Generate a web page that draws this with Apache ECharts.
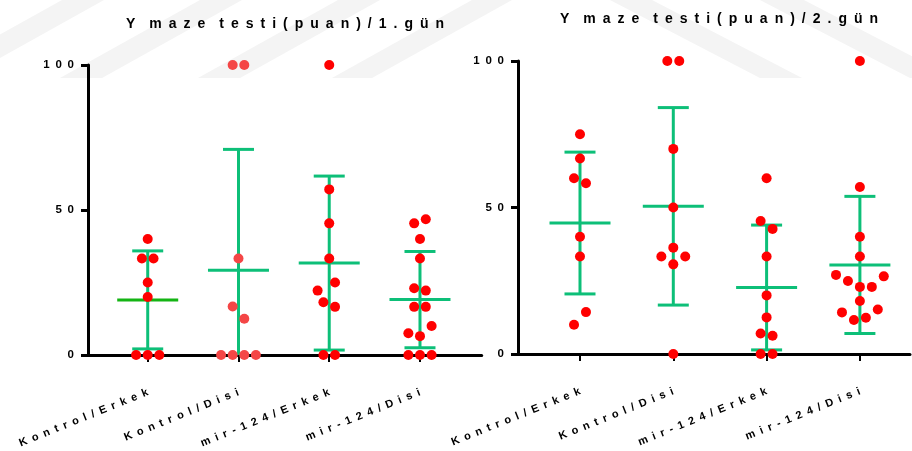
<!DOCTYPE html>
<html>
<head>
<meta charset="utf-8">
<script src="https://cdn.jsdelivr.net/npm/echarts@6/dist/echarts.min.js"></script>
<style>html,body{margin:0;padding:0;background:#fff;}#c{width:912px;height:451px;}</style>
</head>
<body>
<div id="c"></div>
<script>
// ---------- data ----------
const categories = ['Kontrol / Erkek', 'Kontrol / Disi', 'mir-124 / Erkek', 'mir-124 / Disi'];
const titles = ['Y maze testi (puan) / 1.gün', 'Y maze testi (puan) / 2.gün'];
const yTicks = [0, 50, 100];

// points: [group (1-4), beeswarm slot, value]
const day1Points = [
  [1, 0, 40], [1, -0.5, 33.3], [1, 0.5, 33.3], [1, 0, 25], [1, 0, 20], [1, -1, 0], [1, 0, 0], [1, 1, 0],
  [2, -0.5, 100], [2, 0.5, 100], [2, 0, 33.3], [2, -0.5, 16.7], [2, 0.5, 12.5], [2, -1.5, 0], [2, -0.5, 0], [2, 0.5, 0], [2, 1.5, 0],
  [3, 0, 100], [3, 0, 57.1], [3, 0, 45.4], [3, 0, 33.3], [3, 0.5, 25], [3, -1, 22.2], [3, -0.5, 18.2], [3, 0.5, 16.6], [3, -0.5, 0], [3, 0.5, 0],
  [4, -0.5, 45.4], [4, 0.5, 46.8], [4, 0, 40], [4, 0, 33.3], [4, -0.5, 23], [4, 0.5, 22.2], [4, -0.5, 16.6], [4, 0.5, 16.6], [4, 1, 10], [4, -1, 7.5], [4, 0, 6.5], [4, -1, 0], [4, 0, 0], [4, 1, 0]
];
const day2Points = [
  [1, 0, 75], [1, 0, 66.7], [1, -0.5, 60], [1, 0.5, 58.3], [1, 0, 40], [1, 0, 33.3], [1, 0.5, 14.3], [1, -0.5, 10],
  [2, -0.5, 100], [2, 0.5, 100], [2, 0, 70], [2, 0, 50], [2, 0, 36.3], [2, -1, 33.3], [2, 1, 33.3], [2, 0, 30.6], [2, 0, 0],
  [3, 0, 60], [3, -0.5, 45.4], [3, 0.5, 42.7], [3, 0, 33.3], [3, 0, 20], [3, 0, 12.5], [3, -0.5, 7], [3, 0.5, 6.2], [3, -0.5, 0], [3, 0.5, 0],
  [4, 0, 100], [4, 0, 57], [4, 0, 40], [4, 0, 33.3], [4, -2, 27], [4, 2, 26.5], [4, -1, 24.9], [4, 0, 22.9], [4, 1, 22.9], [4, 0, 18.1], [4, -1.5, 14.2], [4, 1.5, 15.2], [4, 0.5, 12.4], [4, -0.5, 11.6]
];
// mean and SD per group
const day1Mean = [19.0, 29.2, 31.7, 19.1];
const day1SD = [16.9, 41.7, 30.0, 16.6];
const day2Mean = [44.7, 50.4, 22.7, 30.4];
const day2SD = [24.2, 33.7, 21.3, 23.4];

// ---------- styling ----------
const RED = '#ff0000';
const RED_LIGHT = '#f44646';
const GREEN = '#0dbf78';
const GREEN_MEAN1 = '#14b414';
const SLOT = 0.128;
const EN = '\u2002';
const FONT = '"Liberation Sans", Arial, sans-serif';

function spaced(s) {
  return s.split('').filter(c => c !== ' ').join(EN);
}
function spacedTitle(s) {
  const words = s.split(' ');
  const gaps = [EN + EN, EN + EN, EN, EN, EN];
  let out = '';
  words.forEach((w, i) => {
    out += w.split('').join(EN);
    if (i < words.length - 1) out += gaps[i] || EN;
  });
  return out;
}

function scatterData(points, lightGroup) {
  return points.map(p => ({
    value: [p[0] + p[1] * SLOT, p[2]],
    itemStyle: { color: p[0] === lightGroup ? RED_LIGHT : RED, opacity: 1 }
  }));
}
function barData(means, sds) {
  return means.map((m, i) => [i + 1, m, sds[i]]);
}
function makeRender(meanColors) {
  return function (params, api) {
    const g = api.value(0), m = api.value(1), sd = api.value(2);
    const lo = Math.max(0, m - sd), hi = m + sd;
    const pm = api.coord([g, m]);
    const ph = api.coord([g, hi]);
    const pl = api.coord([g, lo]);
    const st = { stroke: GREEN, lineWidth: 3, fill: null };
    const kids = [
      { type: 'line', shape: { x1: ph[0], y1: ph[1], x2: pl[0], y2: pl[1] }, style: st },
      { type: 'line', shape: { x1: ph[0] - 15.5, y1: ph[1], x2: ph[0] + 15.5, y2: ph[1] }, style: st }
    ];
    if (m - sd >= 0) {
      kids.push({ type: 'line', shape: { x1: pl[0] - 15.5, y1: pl[1], x2: pl[0] + 15.5, y2: pl[1] }, style: st });
    }
    kids.push({ type: 'line', shape: { x1: pm[0] - 30.5, y1: pm[1], x2: pm[0] + 30.5, y2: pm[1] },
      style: { stroke: meanColors[params.dataIndex] || GREEN, lineWidth: 3 } });
    return { type: 'group', children: kids };
  };
}

function xAxisCfg(idx, min, max) {
  return {
    type: 'value', gridIndex: idx, min: min, max: max,
    splitLine: { show: false },
    axisLine: { show: true, lineStyle: { color: '#000', width: 3 } },
    axisTick: { show: true, customValues: [1, 2, 3, 4], length: 7, lineStyle: { color: '#000', width: 2 } },
    axisLabel: {
      show: true, customValues: [1, 2, 3, 4], rotate: 22, margin: 37,
      fontSize: 11, fontWeight: 'bold', color: '#000', fontFamily: FONT,
      formatter: v => spaced(categories[Math.round(v) - 1] || '')
    }
  };
}
function yAxisCfg(idx) {
  return {
    type: 'value', gridIndex: idx, min: 0, max: 100, interval: 50,
    splitLine: { show: false },
    axisLine: { show: true, lineStyle: { color: '#000', width: 3 } },
    axisTick: { show: true, length: 7, lineStyle: { color: '#000', width: 3 } },
    axisLabel: {
      margin: 14, fontSize: 11.5, fontWeight: 'bold', color: '#000', fontFamily: FONT,
      formatter: v => yTicks.indexOf(v) >= 0 ? spaced(String(v)) : ''
    }
  };
}

// faint watermark bands
const wmColor = '#f4f4f4';
function band(xTop, w, shift) {
  return {
    type: 'polygon', z: -100, silent: true,
    shape: { points: [[xTop, 0], [xTop + w, 0], [xTop + w + shift, 78], [xTop + shift, 78]] },
    style: { fill: wmColor }
  };
}

const chart = echarts.init(document.getElementById('c'));
chart.setOption({
  animation: false,
  backgroundColor: '#fff',
  graphic: [
    band(62, 42, -140), band(200, 42, -140), band(338, 42, -140), band(472, 40, -140),
    band(610, 42, 150), band(760, 44, 150)
  ],
  title: [
    { text: spacedTitle(titles[0]), left: 280, top: 12, textAlign: 'center',
      textStyle: { fontSize: 14, fontWeight: 'bold', color: '#000', fontFamily: FONT } },
    { text: spacedTitle(titles[1]), left: 714, top: 7, textAlign: 'center',
      textStyle: { fontSize: 14, fontWeight: 'bold', color: '#000', fontFamily: FONT } }
  ],
  grid: [
    { left: 88, top: 65, width: 393.7, height: 290 },
    { left: 518, top: 61, width: 392, height: 293 }
  ],
  xAxis: [xAxisCfg(0, 0.342, 4.68), xAxisCfg(1, 0.3355, 4.537)],
  yAxis: [yAxisCfg(0), yAxisCfg(1)],
  series: [
    { type: 'custom', xAxisIndex: 0, yAxisIndex: 0, z: 2, clip: false,
      renderItem: makeRender([GREEN_MEAN1, GREEN, GREEN, GREEN]), data: barData(day1Mean, day1SD) },
    { type: 'custom', xAxisIndex: 1, yAxisIndex: 1, z: 2, clip: false,
      renderItem: makeRender([GREEN, GREEN, GREEN, GREEN]), data: barData(day2Mean, day2SD) },
    { type: 'scatter', xAxisIndex: 0, yAxisIndex: 0, z: 3, symbolSize: 10, clip: false,
      itemStyle: { opacity: 1 }, data: scatterData(day1Points, 2) },
    { type: 'scatter', xAxisIndex: 1, yAxisIndex: 1, z: 3, symbolSize: 10, clip: false,
      itemStyle: { opacity: 1 }, data: scatterData(day2Points, 0) }
  ]
});
</script>
</body>
</html>
